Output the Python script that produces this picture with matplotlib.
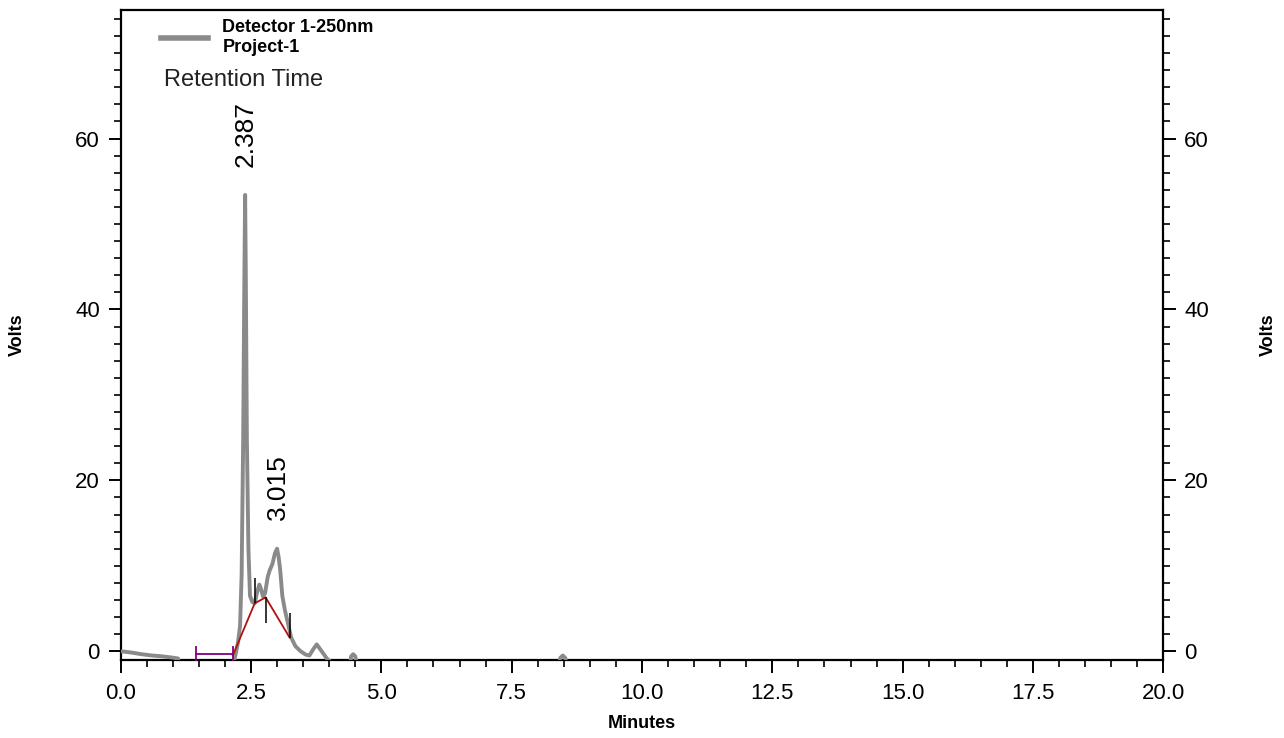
import matplotlib
matplotlib.use("Agg")
import matplotlib.pyplot as plt
from matplotlib.ticker import MultipleLocator
from matplotlib.lines import Line2D

# chromatogram trace (minutes, volts)
time_min = [0.0, 0.2, 0.4, 0.6, 0.8, 1.0, 1.1, 1.15, 2.12, 2.20, 2.25, 2.29,
            2.32, 2.35, 2.37, 2.387, 2.40, 2.42, 2.45, 2.48, 2.52, 2.57, 2.62,
            2.66, 2.69, 2.73, 2.77, 2.82, 2.86, 2.91, 2.96, 3.00, 3.03, 3.06,
            3.10, 3.15, 3.20, 3.27, 3.35, 3.45, 3.55, 3.62, 3.69, 3.76, 3.82,
            3.89, 3.96, 4.02, 4.10, 4.38, 4.42, 4.46, 4.50, 4.55, 8.38, 8.43,
            8.48, 8.53, 8.58, 20.0]
volts = [0.0, -0.15, -0.35, -0.5, -0.6, -0.75, -0.85, -2.5, -2.5, -0.5, 1.0, 3.0,
         9.0, 25.0, 42.0, 53.4, 44.0, 25.0, 12.0, 6.5, 5.8, 5.6, 7.0,
         7.8, 7.3, 6.4, 6.8, 8.7, 9.5, 10.2, 11.5, 12.0, 11.0, 9.5,
         6.5, 4.8, 3.5, 1.6, 0.6, 0.0, -0.4, -0.5, 0.2, 0.8, 0.3,
         -0.3, -0.9, -1.2, -2.5, -2.5, -0.6, -0.35, -0.6, -2.5, -2.5, -0.8,
         -0.5, -0.8, -2.5, -2.5]

# labelled peaks
peak_rt = [2.387, 3.015]
peak_height = [53.4, 12.0]
peak_labels = ["2.387", "3.015"]

# integration baseline and event marks
base_x = [2.15, 2.57, 2.78, 3.24]
base_y = [-0.5, 5.6, 6.3, 1.6]
mark_x = [2.57, 2.78, 3.24]
mark_lo = [5.6, 3.3, 1.6]
mark_hi = [8.6, 6.3, 4.5]
window_x = [1.45, 2.15]
window_y = [-0.3, -0.3]

plt.rcParams['font.family'] = ["Liberation Sans Narrow", "Liberation Sans", "DejaVu Sans"]

fig = plt.figure(figsize=(12.84, 7.38), dpi=100)
ax = fig.add_axes([0.094, 0.106, 0.812, 0.880])

ax.plot(time_min, volts, color="#8a8a8a", lw=2.8, solid_joinstyle="round",
        zorder=3)
ax.plot(base_x, base_y, color="#b01010", lw=1.3, zorder=4)
ax.vlines(mark_x, mark_lo, mark_hi, color="black", lw=1.1, zorder=5)
ax.plot(window_x, window_y, color="#800080", lw=1.3, marker="|",
        markersize=11, markeredgewidth=1.3, zorder=4)

for rt, h, lab in zip(peak_rt, peak_height, peak_labels):
    ax.text(rt, h + 3.3, lab, rotation=90, ha="center", va="bottom",
            fontsize=19)

ax.set_xlim(0, 20)
ax.set_ylim(-1, 75)
ax.xaxis.set_major_locator(MultipleLocator(2.5))
ax.xaxis.set_minor_locator(MultipleLocator(0.5))
ax.yaxis.set_major_locator(MultipleLocator(20))
ax.yaxis.set_minor_locator(MultipleLocator(2))
ax.xaxis.set_major_formatter(plt.FuncFormatter(lambda v, p: f"{v:.1f}"))

ax.tick_params(axis="both", which="major", direction="out", length=9,
               width=1.4, labelsize=16, pad=6)
ax.tick_params(axis="both", which="minor", direction="out", length=5, width=1.2)
ax.tick_params(axis="y", which="both", left=True, right=True,
               labelleft=True, labelright=True)
ax.tick_params(axis="x", which="major", pad=8)
for s in ax.spines.values():
    s.set_linewidth(1.6)

handle = Line2D([], [], color="#8a8a8a", lw=4)
ax.legend([handle], ["Detector 1-250nm\nProject-1"], loc="upper left",
          bbox_to_anchor=(0.03, 1.0), frameon=False, handlelength=2.6,
          handletextpad=0.8, prop={"weight": "bold", "size": 13},
          borderaxespad=0.1)

ax.text(0.042, 0.892, "Retention Time", transform=ax.transAxes, fontsize=17,
        va="center", ha="left", color="#222222")

fig.text(17 / 1284, 1 - 335 / 738, "Volts", rotation=90, ha="center",
         va="center", fontsize=13, weight="bold")
fig.text(1268 / 1284, 1 - 335 / 738, "Volts", rotation=90, ha="center",
         va="center", fontsize=13, weight="bold")
fig.text(642 / 1284, 1 - 724 / 738, "Minutes", ha="center", va="center",
         fontsize=13, weight="bold")

fig.savefig("out.png", dpi=100)
